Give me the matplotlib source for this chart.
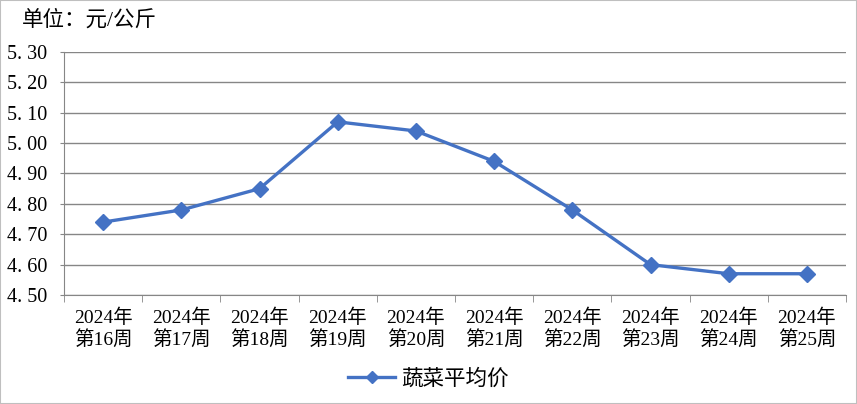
import matplotlib
matplotlib.use("Agg")
import matplotlib.pyplot as plt
from matplotlib.ticker import FixedLocator, NullFormatter

plt.rcParams['font.family'] = ['Liberation Serif', 'Noto Sans CJK SC', 'DejaVu Sans']

weeks = ["2024年\n第16周", "2024年\n第17周", "2024年\n第18周", "2024年\n第19周", "2024年\n第20周",
         "2024年\n第21周", "2024年\n第22周", "2024年\n第23周", "2024年\n第24周", "2024年\n第25周"]
prices = [4.74, 4.78, 4.85, 5.07, 5.04, 4.94, 4.78, 4.60, 4.57, 4.57]
yticks = [4.50, 4.60, 4.70, 4.80, 4.90, 5.00, 5.10, 5.20, 5.30]

fig = plt.figure(figsize=(8.57, 4.04), dpi=100)
fig.patches.append(plt.Rectangle((0, 0), 1, 1, transform=fig.transFigure, fill=False,
                                 edgecolor='#bfbfbf', linewidth=1.5))
ax = fig.add_axes([0.0747, 0.2698, 0.9125, 0.6015])

x = list(range(len(weeks)))
ax.plot(x, prices, color='#4472C4', linewidth=2.4, marker='D', markersize=8, label='蔬菜平均价')

ax.set_xlim(-0.5, len(weeks) - 0.5)
ax.set_ylim(4.50, 5.30)
ax.set_yticks(yticks)
ax.set_yticklabels([f"{v:.2f}".replace(".", ". ") for v in yticks], fontsize=14.5)
ax.set_xticks(x)
ax.set_xticklabels(weeks, fontsize=14, linespacing=1.15)
ax.tick_params(axis='x', length=0, pad=10)
ax.xaxis.set_minor_locator(FixedLocator([i - 0.5 for i in range(len(weeks) + 1)]))
ax.xaxis.set_minor_formatter(NullFormatter())
ax.tick_params(axis='x', which='minor', length=5, color='#868686')
ax.tick_params(axis='y', length=3, color='#868686', pad=9)

ax.grid(axis='y', color='#868686', linewidth=1)
ax.set_axisbelow(True)
for s in ['top', 'right']:
    ax.spines[s].set_visible(False)
ax.spines['left'].set_color('#868686')
ax.spines['bottom'].set_color('#868686')

fig.text(0.026, 0.95, "单位：元/公斤", fontsize=15.5, va='center', ha='left')

fig.legend(loc='center', bbox_to_anchor=(0.5, 0.06), frameon=False, fontsize=15.5,
           handlelength=2.2, handletextpad=0.3, markerscale=0.75)

fig.savefig("out.png", dpi=100)
